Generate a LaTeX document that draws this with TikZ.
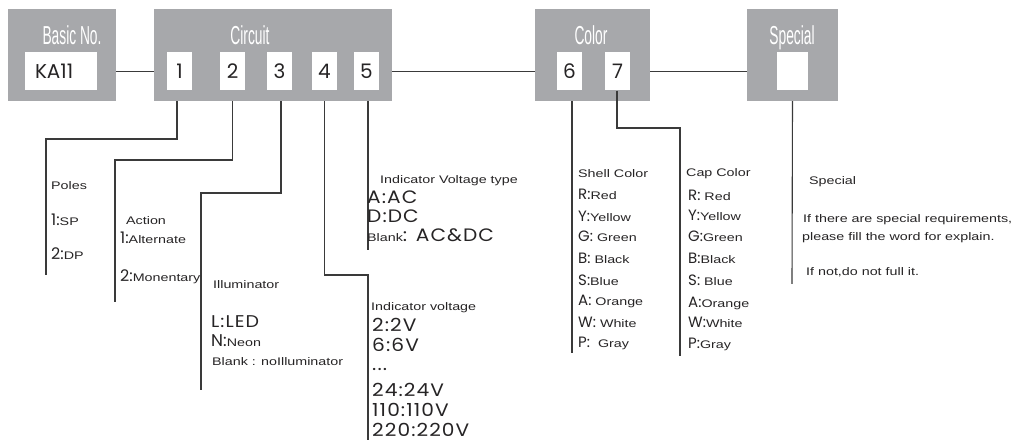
\documentclass[tikz,border=0pt]{standalone}
\usepackage{fontspec}
\setmainfont{Liberation Sans}
\newfontfamily\smf[FakeStretch=1.3]{Liberation Sans}
\newfontfamily\bgf{Poppins}
\newfontfamily\bgw[FakeStretch=1.12,LetterSpace=6]{Poppins}
\newfontfamily\ttlf[FakeStretch=0.53]{Liberation Sans}
\definecolor{boxgray}{HTML}{A7A8AB}
\definecolor{ink}{HTML}{262425}
\definecolor{wire}{HTML}{3A3A3A}
\newcommand\sm[1]{{\smf\fontsize{11}{13}\selectfont #1}}
\newcommand\bg[2][14]{{\bgf\fontsize{#1}{#1}\selectfont #2}}
\newcommand\bw[2][18]{{\bgw\fontsize{#1}{#1}\selectfont #2}}
\begin{document}
\begin{tikzpicture}[x=1pt,y=-1pt,
  grp/.style={fill=boxgray, draw=none, inner sep=0, minimum height=92pt},
  wbox/.style={fill=white, draw=none, inner sep=0, minimum height=38pt, minimum width=25pt, font=\bgf\fontsize{20}{20}\selectfont, text=ink},
  ttl/.style={anchor=base, inner sep=0, text=white, font=\ttlf\fontsize{26}{26}\selectfont},
  txt/.style={anchor=base west, inner sep=0, text=ink},
  wireln/.style={draw=wire, line width=1.1pt}]
\useasboundingbox (0,0) rectangle (1013,443);
% group boxes
\node[grp, minimum width=108pt] (basic) at (62,55) {};
\node[grp, minimum width=238pt] (circuit) at (273,55) {};
\node[grp, minimum width=115pt] (color) at (592.5,55) {};
\node[grp, minimum width=91pt] (special) at (792.5,55) {};
% titles
\node[ttl] (tbasic) at (72,45) {Basic No.};
\node[ttl] (tcirc) at (250,45) {Circuit};
\node[ttl] (tcol) at (591,45) {Color};
\node[ttl] (tspec) at (792,45) {Special};
% white boxes
\node[wbox, minimum width=72pt] (ka) at (61,71.5) {\makebox[72pt][l]{\hspace{10pt}KA11}};
\node[wbox] (d1) at (179.5,71.5) {1};
\node[wbox] (d2) at (232.5,71.5) {2};
\node[wbox] (d3) at (279.5,71.5) {3};
\node[wbox] (d4) at (324.5,71.5) {4};
\node[wbox] (d5) at (366.5,71.5) {5};
\node[wbox] (d6) at (569.5,71.5) {6};
\node[wbox] (d7) at (617.5,71.5) {7};
\node[wbox, minimum width=31pt] (sw) at (792.5,71.5) {};
% chain
\draw[wireln] (basic.east |- ka) -- (circuit.west |- ka);
\draw[wireln] (circuit.east |- ka) -- (color.west |- ka);
\draw[wireln] (color.east |- ka) -- (special.west |- ka);
% leader coordinates
\coordinate (k1) at (46,139);  \coordinate (e1) at (46,275);
\coordinate (k2) at (115,160); \coordinate (e2) at (115,302);
\coordinate (k3) at (201,193); \coordinate (e3) at (201,390);
\coordinate (k4) at (368,275); \coordinate (e4) at (368,440);
\coordinate (e5) at (368,250);
\coordinate (e6) at (572,353);
\coordinate (k7) at (680,128); \coordinate (e7) at (680,356);
\coordinate (e8) at (792,284);
\draw[wireln] ([xshift=-2.5pt]d1.south |- circuit.south) |- (k1) -- (e1);
\draw[wireln] (d2.south |- circuit.south) |- (k2) -- (e2);
\draw[wireln] ([xshift=1.5pt]d3.south |- circuit.south) |- (k3) -- (e3);
\draw[wireln] (d4.south |- circuit.south) |- (k4) -- (e4);
\draw[wireln] ([xshift=1.5pt]d5.south |- circuit.south) -- (e5);
\draw[wireln] ([xshift=2.5pt]d6.south |- color.south) -- (e6);
\draw[wireln] ([xshift=-0.5pt]d7.south) |- (k7) -- (e7);
\draw[wireln] (special.south) -- (e8);
% Poles
\node[txt] (poles) at (51,190) {\sm{Poles}};
\node[txt] (p1) at (51,226) {\bg[16]{1:}\sm{SP}};
\node[txt] (p2) at (51,260) {\bg[16]{2:}\sm{DP}};
% Action
\node[txt] (act) at (126,225) {\sm{Action}};
\node[txt] (a1) at (120,244) {\bg[16]{1:}\sm{Alternate}};
\node[txt] (a2) at (120,282) {\bg[16]{2:}\sm{Monentary}};
% Illuminator
\node[txt] (ill) at (213,289) {\sm{Illuminator}};
\node[txt] (i1) at (211,328) {\bw[17]{L:LED}};
\node[txt] (i2) at (211,347) {\bg[17]{N:}\sm{Neon}};
\node[txt] (i3) at (212,366) {\sm{Blank : noIlluminator}};
% Indicator voltage
\node[txt] (iv) at (371,311) {\sm{Indicator voltage}};
\node[txt] (v1) at (372,332) {\bw{2:2V}};
\node[txt] (v2) at (372,352) {\bw{6:6V}};
\node[txt] (v3) at (372,371) {\bw{...}};
\node[txt] (v4) at (372,397) {\bw{24:24V}};
\node[txt] (v5) at (372,417) {\bw{110:110V}};
\node[txt] (v6) at (372,437) {\bw{220:220V}};
% Indicator voltage type
\node[txt] (ivt) at (380,184) {\sm{Indicator Voltage type}};
\node[txt] (t1) at (367,204) {\bw{A:AC}};
\node[txt] (t2) at (367,223) {\bw{D:DC}};
\node[txt] (t3) at (367,242) {\sm{Blank}\bw{: AC\&DC}};
% Shell color
\node[txt] (sc) at (578,178) {\sm{Shell Color}};
\node[txt] (s1) at (578,200) {\bg[15]{R:}\sm{Red}};
\node[txt] (s2) at (578,222) {\bg[15]{Y:}\sm{Yellow}};
\node[txt] (s3) at (578,242) {\bg[15]{G:}\sm{ Green}};
\node[txt] (s4) at (578,264) {\bg[15]{B:}\sm{ Black}};
\node[txt] (s5) at (578,286) {\bg[15]{S:}\sm{Blue}};
\node[txt] (s6) at (578,306) {\bg[15]{A:}\sm{ Orange}};
\node[txt] (s7) at (578,328) {\bg[15]{W:}\sm{ White}};
\node[txt] (s8) at (578,348) {\bg[15]{P:}\sm{ \ Gray}};
% Cap color
\node[txt] (cc) at (686,177) {\sm{Cap Color}};
\node[txt] (c1) at (688,201) {\bg[15]{R:}\sm{ Red}};
\node[txt] (c2) at (688,221) {\bg[15]{Y:}\sm{Yellow}};
\node[txt] (c3) at (688,242) {\bg[15]{G:}\sm{Green}};
\node[txt] (c4) at (688,264) {\bg[15]{B:}\sm{Black}};
\node[txt] (c5) at (688,286) {\bg[15]{S:}\sm{ Blue}};
\node[txt] (c6) at (688,308) {\bg[15]{A:}\sm{Orange}};
\node[txt] (c7) at (688,328) {\bg[15]{W:}\sm{White}};
\node[txt] (c8) at (688,349) {\bg[15]{P:}\sm{Gray}};
% Special
\node[txt] (sp) at (809,185) {\sm{Special}};
\node[txt] (sp1) at (803,223) {\sm{If there are special requirements,}};
\node[txt] (sp2) at (802,241) {\sm{please fill the word for explain.}};
\node[txt] (sp3) at (806,276) {\sm{If not,do not full it.}};
\end{tikzpicture}
\end{document}
